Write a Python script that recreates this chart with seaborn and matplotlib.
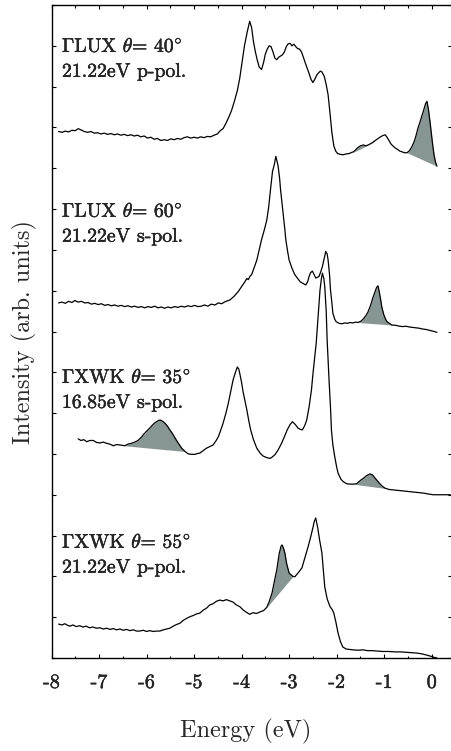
import numpy as np
import pandas as pd
import matplotlib
matplotlib.use("Agg")
import matplotlib.pyplot as plt
import matplotlib.patheffects as pe
import seaborn as sns

# ---- spectra (energy in eV, intensity in arbitrary offset units) ----
e_lux40 = [-7.85,-7.78,-7.71,-7.64,-7.57,-7.50,-7.44,-7.38,-7.31,-7.24,-7.17,-7.10,-7.03,-6.96,-6.89,-6.82,-6.75,-6.68,-6.61,-6.54,
           -6.47,-6.40,-6.33,-6.26,-6.19,-6.12,-6.05,-5.98,-5.91,-5.84,-5.77,-5.70,-5.63,-5.56,-5.49,-5.42,-5.35,-5.28,-5.21,-5.14,
           -5.07,-5.00,-4.93,-4.86,-4.79,-4.72,-4.65,-4.58,-4.51,-4.45,-4.39,-4.33,-4.27,-4.21,-4.15,-4.09,-4.04,-3.99,-3.94,-3.88,
           -3.83,-3.79,-3.75,-3.71,-3.67,-3.63,-3.58,-3.54,-3.50,-3.46,-3.42,-3.38,-3.34,-3.30,-3.26,-3.22,-3.18,-3.14,-3.10,-3.06,
           -3.02,-2.98,-2.94,-2.90,-2.86,-2.82,-2.78,-2.74,-2.70,-2.66,-2.62,-2.58,-2.54,-2.50,-2.46,-2.42,-2.38,-2.34,-2.31,-2.26,
           -2.22,-2.18,-2.14,-2.10,-2.06,-2.02,-1.98,-1.92,-1.87,-1.80,-1.74,-1.68,-1.65,-1.62,-1.56,-1.50,-1.44,-1.38,-1.32,-1.26,
           -1.21,-1.15,-1.09,-1.03,-0.98,-0.94,-0.90,-0.86,-0.82,-0.77,-0.72,-0.67,-0.62,-0.57,-0.52,-0.47,-0.42,-0.37,-0.33,-0.29,
           -0.25,-0.21,-0.17,-0.13,-0.10,-0.07,-0.04,-0.01,0.02,0.05,0.08,0.11]
i_lux40 = [12.90,12.88,12.91,12.89,12.93,12.92,12.97,12.94,12.90,12.88,12.90,12.86,12.87,12.84,12.86,12.83,12.85,12.82,12.84,12.81,
           12.83,12.80,12.82,12.79,12.81,12.77,12.79,12.74,12.76,12.71,12.73,12.68,12.70,12.68,12.72,12.70,12.73,12.71,12.75,12.77,
           12.74,12.76,12.74,12.77,12.75,12.78,12.77,12.81,12.84,12.92,12.97,13.10,13.25,13.42,13.65,13.90,14.20,14.60,15.00,15.35,
           15.60,15.45,15.10,14.85,14.65,14.48,14.42,14.58,14.80,14.92,15.00,14.98,14.85,14.70,14.66,14.72,14.75,14.78,14.85,14.98,
           15.05,15.06,15.00,15.04,14.98,14.93,14.92,14.85,14.72,14.58,14.45,14.32,14.18,14.10,14.18,14.28,14.34,14.38,14.36,14.25,
           14.05,13.80,13.35,12.87,12.55,12.42,12.36,12.34,12.33,12.35,12.36,12.39,12.40,12.43,12.50,12.55,12.57,12.55,12.58,12.62,
           12.66,12.71,12.76,12.80,12.82,12.76,12.68,12.60,12.55,12.50,12.46,12.42,12.40,12.38,12.38,12.43,12.52,12.65,12.80,12.98,
           13.12,13.27,13.42,13.58,13.64,13.45,13.18,12.88,12.58,12.32,12.15,12.05]

e_lux60 = [-7.85,-7.78,-7.71,-7.64,-7.57,-7.51,-7.44,-7.37,-7.30,-7.23,-7.16,-7.09,-7.02,-6.95,-6.88,-6.81,-6.74,-6.67,-6.60,-6.53,
           -6.46,-6.39,-6.32,-6.25,-6.18,-6.11,-6.04,-5.97,-5.90,-5.83,-5.76,-5.69,-5.62,-5.55,-5.48,-5.41,-5.34,-5.27,-5.20,-5.13,
           -5.06,-4.99,-4.92,-4.85,-4.78,-4.71,-4.64,-4.56,-4.49,-4.42,-4.35,-4.25,-4.16,-4.07,-4.00,-3.93,-3.89,-3.86,-3.82,-3.79,
           -3.74,-3.68,-3.63,-3.58,-3.52,-3.47,-3.43,-3.40,-3.37,-3.35,-3.31,-3.28,-3.25,-3.23,-3.20,-3.18,-3.15,-3.12,-3.09,-3.07,
           -3.03,-3.00,-2.94,-2.88,-2.82,-2.77,-2.71,-2.65,-2.61,-2.58,-2.55,-2.51,-2.47,-2.44,-2.40,-2.37,-2.33,-2.30,-2.26,-2.23,
           -2.20,-2.18,-2.15,-2.13,-2.10,-2.08,-2.04,-2.01,-1.95,-1.89,-1.83,-1.77,-1.72,-1.66,-1.60,-1.55,-1.48,-1.43,-1.38,-1.34,
           -1.30,-1.27,-1.24,-1.20,-1.16,-1.13,-1.10,-1.07,-1.05,-1.01,-0.97,-0.94,-0.88,-0.84,-0.75,-0.68,-0.61,-0.54,-0.47,-0.40,
           -0.33,-0.26,-0.19,-0.12,-0.05,0.02,0.08,0.11]
i_lux60 = [8.70,8.72,8.69,8.74,8.71,8.76,8.72,8.74,8.70,8.71,8.67,8.69,8.66,8.68,8.64,8.66,8.63,8.65,8.62,8.64,
           8.61,8.63,8.60,8.62,8.59,8.61,8.58,8.61,8.59,8.62,8.58,8.60,8.57,8.60,8.58,8.61,8.59,8.62,8.60,8.63,
           8.61,8.64,8.61,8.62,8.65,8.62,8.67,8.65,8.70,8.68,8.73,8.77,8.86,8.98,9.10,9.22,9.30,9.27,9.36,9.39,
           9.55,9.75,10.00,10.25,10.50,10.73,11.05,11.39,11.70,11.92,12.10,12.29,12.15,12.04,11.75,11.47,11.15,10.82,10.50,10.25,
           9.95,9.75,9.55,9.39,9.30,9.22,9.18,9.14,9.22,9.35,9.44,9.48,9.38,9.31,9.33,9.35,9.48,9.59,9.80,9.96,
           9.90,9.75,9.40,9.02,8.70,8.45,8.30,8.24,8.20,8.19,8.21,8.20,8.22,8.21,8.23,8.22,8.26,8.32,8.40,8.48,
           8.60,8.70,8.82,8.95,9.08,9.12,8.95,8.75,8.60,8.42,8.30,8.24,8.19,8.16,8.15,8.13,8.12,8.13,8.11,8.10,
           8.09,8.08,8.06,8.05,8.03,8.01,7.99,7.98]

e_xwk35 = [-7.44,-7.38,-7.32,-7.26,-7.19,-7.12,-7.05,-6.98,-6.91,-6.84,-6.77,-6.70,-6.63,-6.56,-6.50,-6.46,-6.39,-6.32,-6.25,-6.18,
           -6.11,-6.04,-5.97,-5.89,-5.84,-5.79,-5.75,-5.71,-5.66,-5.61,-5.56,-5.51,-5.45,-5.40,-5.33,-5.26,-5.19,-5.12,-5.05,-4.98,
           -4.93,-4.88,-4.81,-4.74,-4.67,-4.60,-4.54,-4.49,-4.44,-4.39,-4.33,-4.28,-4.23,-4.18,-4.13,-4.09,-4.06,-4.04,-4.00,-3.97,
           -3.93,-3.89,-3.85,-3.81,-3.75,-3.68,-3.61,-3.55,-3.47,-3.40,-3.35,-3.30,-3.23,-3.16,-3.10,-3.04,-2.98,-2.93,-2.87,-2.81,
           -2.76,-2.72,-2.67,-2.63,-2.58,-2.53,-2.50,-2.46,-2.43,-2.41,-2.38,-2.35,-2.32,-2.30,-2.27,-2.25,-2.22,-2.20,-2.18,-2.16,
           -2.13,-2.11,-2.08,-2.04,-2.00,-1.97,-1.91,-1.86,-1.79,-1.72,-1.65,-1.58,-1.53,-1.48,-1.44,-1.37,-1.30,-1.25,-1.20,-1.16,
           -1.10,-1.04,-0.98,-0.95,-0.90,-0.82,-0.74,-0.67,-0.58,-0.50,-0.42,-0.33,-0.25,-0.17,-0.08,0.03,0.15,0.27,0.39]
i_xwk35 = [5.37,5.33,5.35,5.30,5.33,5.33,5.28,5.27,5.29,5.26,5.24,5.20,5.23,5.22,5.21,5.20,5.24,5.26,5.29,5.33,
           5.41,5.51,5.59,5.69,5.75,5.79,5.82,5.83,5.80,5.75,5.68,5.59,5.49,5.39,5.26,5.14,5.06,5.00,4.99,4.99,
           5.01,5.02,5.08,5.14,5.18,5.22,5.32,5.42,5.58,5.75,6.00,6.24,6.52,6.81,7.00,7.13,7.08,6.98,6.75,6.53,
           6.30,6.08,5.82,5.59,5.35,5.14,5.02,4.95,4.91,4.89,4.93,4.98,5.10,5.26,5.42,5.59,5.72,5.79,5.72,5.63,
           5.60,5.59,5.70,5.83,6.15,6.57,6.95,7.38,7.72,8.04,8.50,9.02,9.30,9.43,9.30,9.10,8.50,7.79,7.30,6.81,
           6.15,5.59,5.22,4.93,4.68,4.53,4.38,4.32,4.27,4.26,4.26,4.27,4.32,4.37,4.40,4.47,4.51,4.49,4.42,4.36,
           4.28,4.21,4.16,4.15,4.13,4.12,4.11,4.10,4.09,4.08,4.07,4.06,4.05,4.04,4.02,4.00,4.00,4.00,4.00]

e_xwk55 = [-7.85,-7.78,-7.72,-7.66,-7.61,-7.55,-7.48,-7.41,-7.34,-7.27,-7.20,-7.13,-7.06,-6.98,-6.91,-6.84,-6.77,-6.70,-6.63,-6.56,
           -6.49,-6.42,-6.35,-6.28,-6.21,-6.14,-6.07,-6.00,-5.93,-5.86,-5.79,-5.72,-5.65,-5.58,-5.51,-5.44,-5.37,-5.30,-5.23,-5.16,
           -5.09,-5.02,-4.95,-4.88,-4.81,-4.74,-4.67,-4.60,-4.53,-4.46,-4.39,-4.32,-4.25,-4.18,-4.11,-4.04,-3.97,-3.90,-3.83,-3.76,
           -3.69,-3.61,-3.54,-3.47,-3.42,-3.36,-3.31,-3.26,-3.21,-3.17,-3.15,-3.12,-3.09,-3.05,-3.00,-2.94,-2.92,-2.88,-2.80,-2.73,
           -2.67,-2.60,-2.55,-2.50,-2.47,-2.44,-2.40,-2.36,-2.31,-2.28,-2.25,-2.20,-2.14,-2.09,-2.06,-2.02,-1.97,-1.92,-1.87,-1.80,
           -1.73,-1.66,-1.55,-1.45,-1.35,-1.25,-1.15,-1.03,-0.90,-0.78,-0.66,-0.54,-0.42,-0.31,-0.20,-0.10,-0.04,0.04,0.11]
i_xwk55 = [0.83,0.81,0.84,0.80,0.78,0.81,0.77,0.79,0.76,0.78,0.74,0.76,0.73,0.74,0.71,0.73,0.70,0.72,0.69,0.71,
           0.68,0.70,0.67,0.69,0.66,0.66,0.68,0.65,0.67,0.65,0.66,0.66,0.69,0.71,0.73,0.78,0.82,0.85,0.92,0.97,
           1.01,1.04,1.08,1.10,1.17,1.22,1.30,1.33,1.39,1.42,1.40,1.43,1.40,1.37,1.30,1.26,1.18,1.12,1.07,1.11,
           1.09,1.13,1.16,1.24,1.38,1.59,1.88,2.16,2.55,2.74,2.77,2.70,2.57,2.30,2.08,2.02,2.00,1.99,2.10,2.21,
           2.45,2.73,2.95,3.19,3.35,3.43,3.20,2.90,2.57,2.15,1.74,1.45,1.26,1.18,1.10,0.90,0.61,0.40,0.27,0.22,
           0.21,0.20,0.19,0.20,0.18,0.18,0.17,0.16,0.16,0.15,0.15,0.14,0.13,0.12,0.10,0.07,0.05,0.02,0.00]

# shaded emission features: (curve index, start energy, start level, end energy, end level)
shade_curve = [0, 0, 1, 2, 2, 3]
shade_e0 = [-1.65, -0.52, -1.55, -6.46, -1.65, -3.47]
shade_b0 = [12.39, 12.38, 8.22, 5.20, 4.26, 1.24]
shade_e1 = [-1.21, 0.11, -0.84, -5.19, -0.95, -2.92]
shade_b1 = [12.64, 12.05, 8.16, 5.06, 4.15, 2.00]

label_top = [r"$\Gamma$LUX $\theta$= 40$^{\circ}$", r"$\Gamma$LUX $\theta$= 60$^{\circ}$",
             r"$\Gamma$XWK $\theta$= 35$^{\circ}$", r"$\Gamma$XWK $\theta$= 55$^{\circ}$"]
label_bottom = ["21.22eV p-pol.", "21.22eV s-pol.", "16.85eV s-pol.", "21.22eV p-pol."]
label_level = [14.85, 10.81, 6.74, 2.70]

x_ticks = [-8, -7, -6, -5, -4, -3, -2, -1, 0]
x_ticklabels = ["-8", "-7", "-6", "-5", "-4", "-3", "-2", "-1", "0"]

curves = [(e_lux40, i_lux40), (e_lux60, i_lux60), (e_xwk35, i_xwk35), (e_xwk55, i_xwk55)]

sns.set_theme(style="ticks")
plt.rcParams.update({
    "font.family": ["cmr10", "DejaVu Serif"],
    "mathtext.fontset": "cm",
    "axes.unicode_minus": False,
    "axes.formatter.use_mathtext": True,
    "axes.edgecolor": "black",
    "axes.linewidth": 1.0,
})

# slightly heavier strokes for the thin Computer Modern glyphs
heavy = [pe.withStroke(linewidth=0.3, foreground="black")]

fig = plt.figure(figsize=(4.51, 7.51), dpi=100)
W, H = 451, 751
ax = fig.add_axes([51.5 / W, 1 - 658 / H, (452 - 51.5) / W, (658 - 5) / H])

fill_color = "#889693"
for k, (e, i) in enumerate(curves):
    e = np.asarray(e)
    i = np.asarray(i)
    for c, a0, b0, a1, b1 in zip(shade_curve, shade_e0, shade_b0, shade_e1, shade_b1):
        if c != k:
            continue
        m = (e >= a0 - 1e-9) & (e <= a1 + 1e-9)
        base = np.interp(e[m], [a0, a1], [b0, b1])
        ax.fill_between(e[m], base, i[m], color=fill_color, lw=0, zorder=1)
    df = pd.DataFrame({"energy": e, "intensity": i})
    sns.lineplot(data=df, x="energy", y="intensity", ax=ax, color="black",
                 lw=0.9, sort=False, estimator=None, zorder=2)

for k in range(4):
    ax.text(-7.78, label_level[k], label_top[k], fontsize=14.2, va="baseline",
            ha="left", path_effects=heavy)
    ax.text(-7.78, label_level[k] - 0.61, label_bottom[k], fontsize=14.2,
            va="baseline", ha="left", path_effects=heavy)

ax.set_xlim(-8.0, 0.427)
ax.set_ylim(0, 16)
ax.set_xticks(x_ticks)
ax.set_xticklabels(x_ticklabels)
ax.set_xticks(np.arange(-7.5, 0.4, 1.0), minor=True)
ax.set_yticks(np.arange(0, 17, 1))
ax.set_yticklabels([])
ax.tick_params(axis="both", which="both", direction="in", top=True, right=True,
               color="black", width=0.8)
ax.tick_params(axis="both", which="major", length=3.0)
ax.tick_params(axis="both", which="minor", length=1.8)
ax.tick_params(axis="x", which="major", labelsize=14.5, pad=11.5)
for lbl in ax.get_xticklabels():
    lbl.set_path_effects(heavy)
for s in ax.spines.values():
    s.set_visible(True)
    s.set_linewidth(1.0)

ax.set_xlabel("Energy (eV)", fontsize=17.5)
ax.xaxis.set_label_coords((246 - 51.5) / (452 - 51.5), (658 - 719) / 653)
ax.set_ylabel("Intensity (arb. units)", fontsize=17.5)
ax.yaxis.set_label_coords((37 - 51.5) / (452 - 51.5), 0.5)

fig.savefig("out.png", dpi=100)
